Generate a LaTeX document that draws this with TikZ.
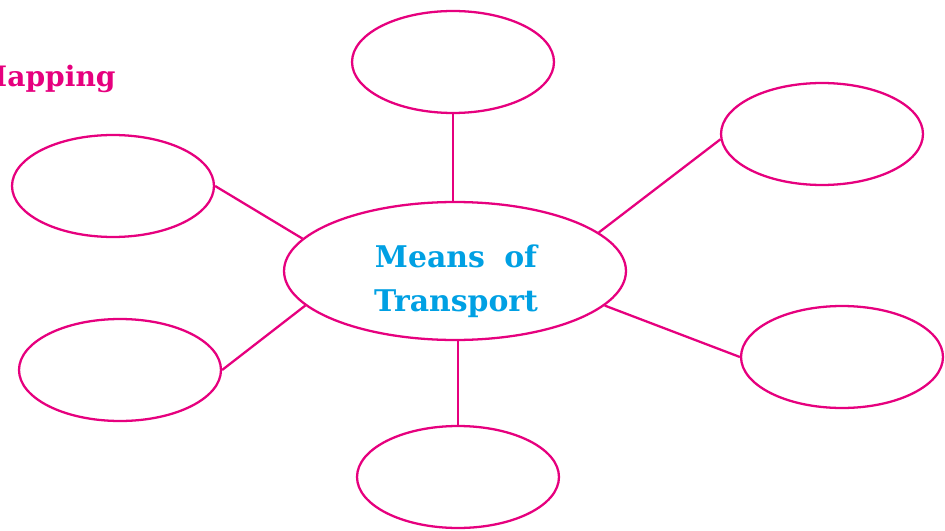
\documentclass[tikz,border=0pt]{standalone}
\usepackage{fontspec}
\setmainfont{DejaVu Serif}
\usetikzlibrary{shapes.geometric}
\definecolor{mappink}{RGB}{230,0,126}
\definecolor{mapblue}{RGB}{0,160,227}

\begin{document}
\begin{tikzpicture}[x=0.02cm,y=-0.02cm,
  bubble/.style={ellipse,draw=mappink,line width=1.3pt,minimum width=4.04cm,minimum height=2.04cm,inner sep=0pt},
  hub/.style={bubble,minimum width=6.84cm,minimum height=2.76cm},
  hubtext/.style={text=mapblue,font=\fontsize{17}{25}\selectfont\bfseries,align=center,inner sep=0pt},
  spoke/.style={draw=mappink,line width=1.3pt}]
\useasboundingbox (0,0) rectangle (945,530);
% heading, cut at the left edge
\node[text=mappink,font=\fontsize{16}{20}\selectfont\bfseries,anchor=base east,inner sep=0pt] (title) at (116,87) {Mapping};
% centre and the six empty bubbles
\node[hub] (mid) at (455,271) {};
\node[hubtext] (midtext) at (456,281) {Means\hspace{0.3em} of\\Transport};
\node[bubble] (top) at (453,62) {};
\node[bubble] (upright) at (822,134) {};
\node[bubble] (upleft) at (113,186) {};
\node[bubble] (lowleft) at (120,370) {};
\node[bubble] (lowright) at (842,357) {};
\node[bubble] (bot) at (458,477) {};
% spokes
\draw[spoke] (top.south) -- (top.south |- mid.north);
\draw[spoke] (mid.15) -- (upright.183);
\draw[spoke] (mid.168) -- (upleft.east);
\draw[spoke] (mid.193) -- (lowleft.east);
\draw[spoke] (mid.-13) -- (lowright.west);
\draw[spoke] (bot.north) -- (bot.north |- mid.south);
\end{tikzpicture}
\end{document}
